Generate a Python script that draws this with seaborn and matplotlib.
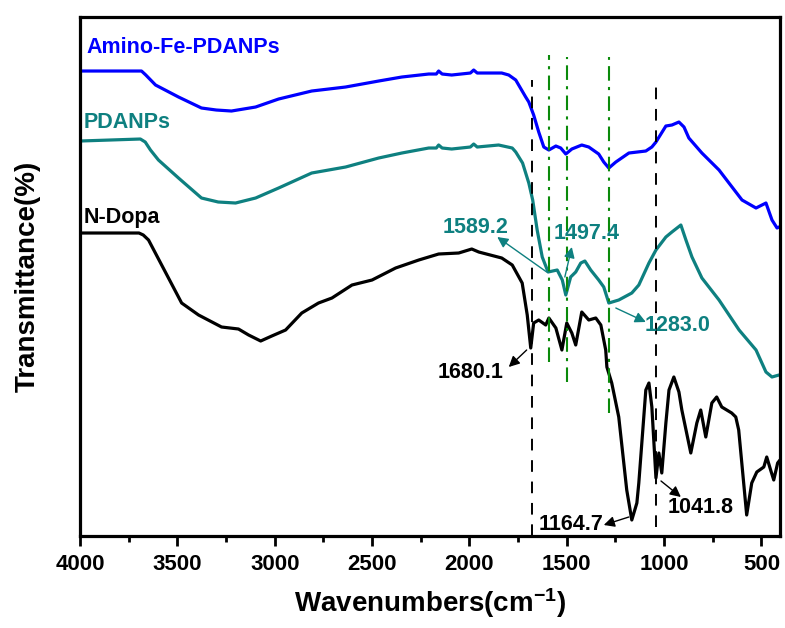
import numpy as np
import pandas as pd
import matplotlib
matplotlib.use("Agg")
import matplotlib.pyplot as plt
import seaborn as sns

# ---------------- data ----------------
series_names = ["Amino-Fe-PDANPs", "PDANPs", "N-Dopa"]
series_colors = ["#0000FF", "#0E8080", "#000000"]

amino_wn = [4000, 3684, 3662, 3612, 3494, 3376, 3300, 3222, 3098, 2980, 2810, 2636, 2466, 2347, 2209,
            2170, 2158, 2140, 2091, 1995, 1978, 1960, 1834, 1798, 1762, 1711, 1695, 1670,
            1644, 1618, 1592, 1556, 1531, 1505, 1474, 1423, 1387, 1336, 1310, 1284, 1248,
            1181, 1094, 1063, 1042, 991, 960, 924, 898, 873, 806, 718, 667, 600, 528, 477,
            446, 420, 410]
amino_t = [465, 465, 461, 451, 439, 428, 426, 425, 429, 437, 445, 449, 455, 459, 462,
           462, 465, 462, 461, 463, 466, 463, 463, 461, 456, 439, 434, 421,
           404, 389, 386, 390, 388, 382, 387, 391, 389, 382, 374, 368, 374,
           383, 385, 389, 394, 410, 411, 414, 409, 398, 383, 366, 353, 336, 328, 333,
           316, 308, 309]

pdanp_wn = [4000, 3690, 3665, 3638, 3597, 3494, 3376, 3290, 3201, 3098, 2980, 2810, 2636, 2466, 2347,
            2209, 2170, 2158, 2140, 2091, 1995, 1978, 1960, 1850, 1780, 1762, 1727, 1695,
            1675, 1652, 1626, 1596, 1549, 1523, 1505, 1480, 1454, 1428, 1407, 1377, 1336,
            1310, 1284, 1233, 1166, 1130, 1078, 1042, 991, 960, 914, 888, 857, 806, 718,
            615, 528, 477, 446, 410]
pdanp_t = [395, 397, 394, 386, 376, 358, 338, 334, 333, 338, 348, 363, 369, 378, 383,
           388, 388, 391, 388, 387, 389, 392, 389, 391, 388, 384, 373, 353,
           336, 306, 279, 264, 266, 256, 241, 259, 264, 273, 275, 266, 256,
           249, 233, 236, 243, 251, 273, 286, 299, 304, 311, 296, 279, 258, 236,
           206, 186, 164, 159, 161]

ndopa_wn = [4000, 3697, 3675, 3648, 3478, 3391, 3273, 3186, 3134, 3072, 3015, 2944, 2861, 2775,
            2706, 2603, 2500, 2379, 2260, 2158, 2055, 1988, 1952, 1834, 1780, 1729, 1703,
            1685, 1670, 1644, 1608, 1592, 1556, 1525, 1500, 1474, 1454, 1423, 1387, 1351,
            1325, 1300, 1294, 1269, 1233, 1192, 1166, 1140, 1130, 1094, 1078, 1063, 1042,
            1027, 1012, 991, 975, 950, 924, 909, 863, 832, 812, 786, 755, 730, 704, 653,
            632, 617, 576, 550, 524, 488, 473, 453, 437, 417, 405]
ndopa_t = [303, 303, 301, 296, 233, 221, 209, 207, 201, 195, 200, 206, 223, 233,
           238, 251, 256, 268, 276, 282, 283, 287, 284, 278, 271, 253, 221,
           188, 213, 216, 211, 218, 208, 186, 213, 203, 191, 224, 216, 218,
           211, 186, 169, 153, 119, 46, 16, 33, 53, 146, 153, 129, 58,
           83, 63, 113, 146, 159, 144, 126, 83, 113, 126, 99, 133, 139, 129, 123,
           119, 106, 21, 53, 64, 69, 79, 66, 56, 73, 76]

# reference lines: (wavenumber, top, bottom)
black_marks = [1680.1, 1041.8]
black_marks_top = [456, 453]
black_marks_bot = [0, 9]
green_marks = [1589.2, 1497.4, 1283.0]
green_marks_top = [481, 479, 479]
green_marks_bot = [174, 154, 123]

# peak annotations: label, colour, text pos, arrow tail, arrow head
peak_labels = ["1589.2", "1497.4", "1283.0", "1680.1", "1164.7", "1041.8"]
peak_colors = ["#0E8080", "#0E8080", "#0E8080", "#000000", "#000000", "#000000"]
peak_text_xy = [(1967, 309), (1397, 303), (933, 211), (1993, 164), (1479, 11), (810, 28)]
peak_tail_xy = [(1603, 264), (1510, 259), (1248, 228), (1706, 186), (1181, 19), (1016, 55)]
peak_head_xy = [(1857, 299), (1474, 289), (1094, 214), (1798, 169), (1310, 11), (914, 39)]

label_pos = [(3967, 489), (3982, 414), (3982, 319)]

# ---------------- plotting ----------------
sns.set_theme(style="ticks")
plt.rcParams["font.family"] = ["Liberation Sans", "DejaVu Sans"]
plt.rcParams["font.weight"] = "bold"
plt.rcParams["mathtext.fontset"] = "custom"
plt.rcParams["mathtext.rm"] = "Liberation Sans:bold"
plt.rcParams["mathtext.bf"] = "Liberation Sans:bold"
plt.rcParams["mathtext.default"] = "bf"
plt.rcParams["text.color"] = "black"
plt.rcParams["axes.labelcolor"] = "black"
plt.rcParams["xtick.color"] = "black"

frames = []
for name, wn, t in zip(series_names,
                       [amino_wn, pdanp_wn, ndopa_wn],
                       [amino_t, pdanp_t, ndopa_t]):
    frames.append(pd.DataFrame({"Wavenumber": wn, "T": t, "Sample": name}))
df = pd.concat(frames, ignore_index=True)

fig = plt.figure(figsize=(7.85, 6.28), dpi=100)
ax = fig.add_axes([0.1019, 0.1465, 0.8917, 0.8264])

sns.lineplot(data=df, x="Wavenumber", y="T", hue="Sample", units="Sample",
             estimator=None, palette=dict(zip(series_names, series_colors)),
             linewidth=2.3, legend=False, ax=ax)
for ln in ax.lines:
    ln.set_solid_joinstyle("round")

for x, t, b in zip(black_marks, black_marks_top, black_marks_bot):
    ax.plot([x, x], [b, t], color="black", lw=1.4, dashes=(6, 5))
for x, t, b in zip(green_marks, green_marks_top, green_marks_bot):
    ax.plot([x, x], [b, t], color="#0A8A0A", lw=1.5, dashes=(7, 3, 1.5, 3))

for lab, col, txy, tail, head in zip(peak_labels, peak_colors, peak_text_xy,
                                     peak_tail_xy, peak_head_xy):
    ax.annotate("", xy=head, xytext=tail,
                arrowprops=dict(arrowstyle="-|>", color=col, lw=1.0,
                                mutation_scale=16, shrinkA=0, shrinkB=0))
    ax.text(txy[0], txy[1], lab, color=col, fontsize=15.5, fontweight="bold",
            ha="center", va="center")

for (x, y), name, col in zip(label_pos, series_names, series_colors):
    ax.text(x, y, name, color=col, fontsize=15.5, fontweight="bold",
            ha="left", va="center")

ax.set_xlim(4000, 405)
ax.set_ylim(0, 519)
ax.set_xticks([4000, 3500, 3000, 2500, 2000, 1500, 1000, 500])
ax.set_xticks(np.arange(3750, 400, -500), minor=True)
ax.set_yticks([])
ax.tick_params(axis="x", which="major", direction="out", length=7, width=2,
               labelsize=16, pad=6, colors="black")
ax.tick_params(axis="x", which="minor", direction="out", length=4, width=2,
               colors="black")
for lbl in ax.get_xticklabels():
    lbl.set_fontweight("bold")
for sp in ax.spines.values():
    sp.set_visible(True)
    sp.set_linewidth(2.3)
    sp.set_color("black")

ax.set_xlabel(r"Wavenumbers(cm$^{-1}$)", fontsize=20, fontweight="bold", labelpad=8)
ax.set_ylabel("Transmittance(%)", fontsize=20, fontweight="bold", labelpad=28)

fig.savefig("out.png", dpi=100)
